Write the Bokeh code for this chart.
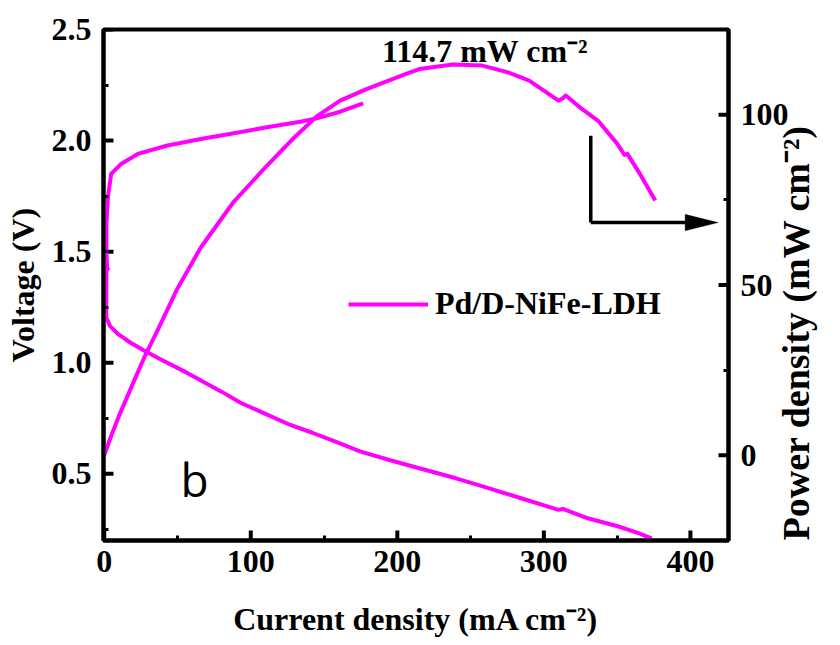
import math
from bokeh.plotting import figure
from bokeh.models import (Range1d, LinearAxis, SingleIntervalTicker, PrintfTickFormatter,
                          Label, Legend, LegendItem, Arrow, PolyAnnotation)
from bokeh.embed import file_html
from bokeh.resources import INLINE

# ---------------- data ----------------
charge_i = [3.2, 2.0, 1.5, 1.5, 2.5, 4.75, 11.5, 22.9, 43.2, 65.9, 88.5, 111, 133.8, 145, 161, 176.7]
charge_v = [1.43, 1.42, 1.50, 1.62, 1.745, 1.85, 1.895, 1.94, 1.978, 2.007, 2.033, 2.06, 2.085, 2.10, 2.13, 2.168]

dis_i = [1.5, 1.4, 1.4, 4, 9.3, 18, 27.4, 40, 55, 66, 80, 93, 110, 127, 142, 156, 175, 197,
         215, 240, 260, 285, 310, 313, 330, 351, 365, 373.5]
dis_v = [1.43, 1.30, 1.204, 1.165, 1.13, 1.09, 1.054, 1.01, 0.96, 0.92, 0.87, 0.82, 0.77, 0.72,
         0.685, 0.65, 0.60, 0.558, 0.525, 0.48, 0.44, 0.389, 0.338, 0.342, 0.30, 0.263, 0.232, 0.21]

power_i = [0, 5, 10, 20, 27.4, 36.4, 50, 65.9, 88.5, 111, 129, 145, 161, 179, 206, 215, 238,
           258, 275, 290, 310, 313, 315, 325, 337, 350, 355, 357, 365, 376]
power_p = [0, 6, 11.5, 21.5, 28.8, 36.7, 49, 61, 74.5, 85.0, 93.0, 99.5, 104.1, 107.5, 112.0, 113.4,
           114.7, 114.4, 112.5, 110, 104.1, 104.8, 105.6, 102, 98.2, 91.5, 88.2, 88.5, 83, 74.8]

series_name = "Pd/D-NiFe-LDH"
peak_text = "114.7 mW cm\u207b\u00b2"
x_title = "Current density (mA cm\u207b\u00b2)"
v_title = "Voltage (V)"
p_title = "Power density (mW cm\u207b\u00b2)"

x_major = [0, 100, 200, 300, 400]
v_major = [0.5, 1.0, 1.5, 2.0, 2.5]
p_major = [0, 50, 100]

# ---------------- styling ----------------
SERIF = "Liberation Serif"
MAG = "#ff00ff"
FS = "32px"
X0, X1 = -0.5, 426
V0, V1 = 0.2, 2.5
P0, P1 = -25, 125
FRAME_W, FRAME_H = 627, 511
TICK_PX = 10
dx_tick = TICK_PX * (X1 - X0) / FRAME_W
dv_tick = TICK_PX * (V1 - V0) / FRAME_H

p = figure(width=840, height=645, output_backend="svg", toolbar_location=None,
           x_range=Range1d(X0, X1), y_range=Range1d(V0, V1),
           min_border_left=103, min_border_right=110, min_border_top=29, min_border_bottom=105)
p.extra_y_ranges = {"power": Range1d(P0, P1)}
p.grid.visible = False
p.outline_line_color = "black"
p.outline_line_width = 4
p.background_fill_color = None
p.border_fill_color = "white"

def style_axis(ax):
    ax.axis_line_width = 4
    ax.axis_line_color = "black"
    ax.major_tick_in = 0
    ax.major_tick_out = 0
    ax.minor_tick_in = 5
    ax.minor_tick_out = 0
    ax.minor_tick_line_width = 3
    ax.minor_tick_line_color = "black"
    ax.major_label_text_font = SERIF
    ax.major_label_text_font_style = "bold"
    ax.major_label_text_font_size = FS
    ax.major_label_text_color = "black"
    ax.axis_label_text_font = SERIF
    ax.axis_label_text_font_style = "bold"
    ax.axis_label_text_font_size = FS
    ax.axis_label_text_color = "black"

xa = p.xaxis[0]
xa.ticker = SingleIntervalTicker(interval=100, num_minor_ticks=2)
xa.axis_label = x_title
style_axis(xa)
xa.major_label_standoff = 10
xa.axis_label_standoff = 26

ya = p.yaxis[0]
ya.ticker = SingleIntervalTicker(interval=0.5, num_minor_ticks=2)
ya.formatter = PrintfTickFormatter(format="%.1f")
ya.axis_label = v_title
style_axis(ya)
ya.major_label_standoff = 12
ya.axis_label_standoff = 8

ra = LinearAxis(y_range_name="power",
                ticker=SingleIntervalTicker(interval=50, num_minor_ticks=2))
style_axis(ra)
ra.axis_label = p_title
ra.axis_label_text_font_size = "38px"
ra.major_label_standoff = 12
ra.axis_label_standoff = 4
label_ok = False
if "axis_label_align" in ra.properties():
    try:
        ra.axis_label_align = "start"
        ra.axis_label_orientation = math.pi / 2
        label_ok = True
    except Exception:
        label_ok = False
if not label_ok:
    ra.axis_label_orientation = "parallel"
p.add_layout(ra, "right")

# inward major ticks
p.segment(x0=x_major, y0=[V0] * len(x_major), x1=x_major, y1=[V0 + dv_tick] * len(x_major),
          line_color="black", line_width=4, line_cap="butt")
p.segment(x0=[X0] * len(v_major), y0=v_major, x1=[X0 + dx_tick] * len(v_major), y1=v_major,
          line_color="black", line_width=4, line_cap="butt")
p.segment(x0=[X1] * len(p_major), y0=p_major, x1=[X1 - dx_tick] * len(p_major), y1=p_major,
          y_range_name="power", line_color="black", line_width=4, line_cap="butt")

r_charge = p.line(charge_i, charge_v, line_color=MAG, line_width=4, line_join="round")
r_dis = p.line(dis_i, dis_v, line_color=MAG, line_width=4, line_join="round")
r_pow = p.line(power_i, power_p, y_range_name="power", line_color=MAG, line_width=4,
               line_join="round")

legend = Legend(items=[LegendItem(label=series_name, renderers=[r_charge])],
                location=(245, 218), glyph_width=80, glyph_height=32, label_height=32,
                label_standoff=7, padding=0, margin=0, spacing=0,
                border_line_color=None, background_fill_alpha=0,
                label_text_font=SERIF, label_text_font_style="bold",
                label_text_font_size=FS, label_text_color="black")
p.add_layout(legend, "center")

# peak annotation
p.add_layout(Label(x=189.5, y=2.405, text=peak_text, text_font=SERIF, text_font_style="bold",
                   text_font_size=FS, text_color="black", text_baseline="alphabetic"))
# panel letter
p.add_layout(Label(x=52, y=0.478, text="b", text_font="Open Sans", text_font_size="46px",
                   text_color="black", text_baseline="alphabetic"))

# L-shaped arrow pointing to the power axis
p.add_layout(Arrow(end=None, x_start=332, y_start=2.022, x_end=332, y_end=1.631,
                   line_color="black", line_width=3.5))
p.add_layout(Arrow(end=None, x_start=332, y_start=1.631, x_end=398, y_end=1.631,
                   line_color="black", line_width=3.5))
p.add_layout(PolyAnnotation(xs=[396.4, 419, 396.4], ys=[1.668, 1.631, 1.594],
                            fill_color="black", fill_alpha=1, line_color="black", line_width=1))

open("out.html", "w").write(file_html(p, INLINE))
